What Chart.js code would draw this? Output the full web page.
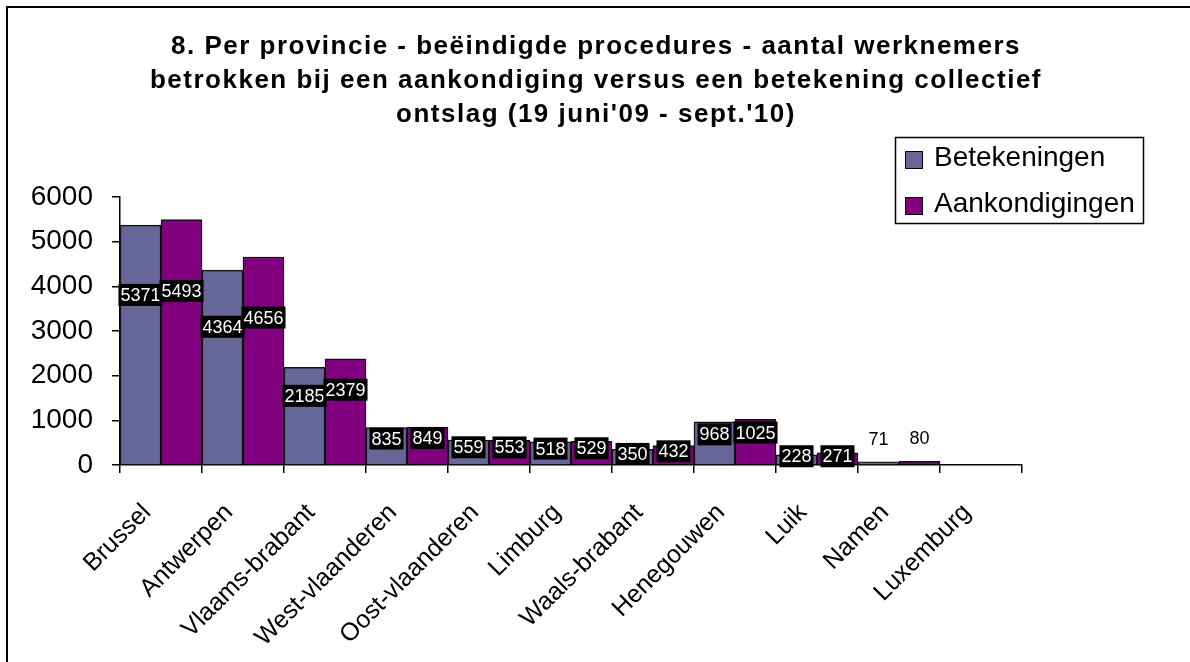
<!DOCTYPE html>
<html lang="nl">
<head>
<meta charset="UTF-8">
<title>Per provincie - beëindigde procedures</title>
<script src="https://cdn.jsdelivr.net/npm/chart.js"></script>
<style>
  html, body { margin: 0; padding: 0; background: #fff; }
  #wrap { width: 1190px; height: 662px; }
</style>
</head>
<body>
<div id="wrap"><canvas id="chart" width="1190" height="662"></canvas></div>
<script>
// gegevens
const provincies = ['Brussel', 'Antwerpen', 'Vlaams-brabant', 'West-vlaanderen', 'Oost-vlaanderen', 'Limburg',
    'Waals-brabant', 'Henegouwen', 'Luik', 'Namen', 'Luxemburg'];
const betekeningen = [5371, 4364, 2185, 835, 559, 518, 350, 968, 228, 71, null];
const aankondigingen = [5493, 4656, 2379, 849, 553, 529, 432, 1025, 271, 80, null];
const yTicks = [0, 1000, 2000, 3000, 4000, 5000, 6000];
const titel = [
    '8. Per provincie - beëindigde procedures - aantal werknemers',
    'betrokken bij een aankondiging versus een betekening collectief',
    "ontslag (19 juni'09 - sept.'10)"
];

const FONT = '"Liberation Sans", Arial, sans-serif';

// kader + titel
const kaderTitel = {
    id: 'kaderTitel',
    afterDraw(chart) {
        const ctx = chart.ctx;
        ctx.save();
        ctx.strokeStyle = '#000';
        ctx.lineWidth = 2;
        ctx.strokeRect(7, 7, 1300, 800);
        ctx.fillStyle = '#000';
        ctx.font = 'bold 26px ' + FONT;
        ctx.letterSpacing = '1.5px';
        ctx.textAlign = 'center';
        ctx.textBaseline = 'middle';
        titel.forEach((regel, i) => ctx.fillText(regel, 596, 47 + i * 34));
        ctx.restore();
    }
};

// legende rechtsboven
const legende = {
    id: 'legende',
    afterDraw(chart) {
        const ctx = chart.ctx;
        ctx.save();
        ctx.fillStyle = '#fff';
        ctx.fillRect(895, 137, 248, 86);
        ctx.strokeStyle = '#000';
        ctx.lineWidth = 1.5;
        ctx.strokeRect(895.5, 137.5, 248, 86);
        ctx.font = '28px ' + FONT;
        ctx.textBaseline = 'middle';
        chart.data.datasets.forEach((ds, i) => {
            const y = 160 + i * 46;
            ctx.fillStyle = ds.backgroundColor;
            ctx.fillRect(905, y - 9, 18, 18);
            ctx.strokeStyle = '#000';
            ctx.lineWidth = 1;
            ctx.strokeRect(905.5, y - 8.5, 17, 17);
            ctx.fillStyle = '#000';
            ctx.fillText(ds.label, 934, y - 2);
        });
        ctx.restore();
    }
};

// waarden op de staven
const waardeLabels = {
    id: 'waardeLabels',
    afterDatasetsDraw(chart) {
        const ctx = chart.ctx;
        ctx.save();
        ctx.font = '18px ' + FONT;
        ctx.textAlign = 'center';
        ctx.textBaseline = 'middle';
        chart.data.datasets.forEach((ds, i) => {
            chart.getDatasetMeta(i).data.forEach((bar, j) => {
                const v = ds.data[j];
                if (v == null) return;
                const txt = String(v);
                if (v < 100) {
                    ctx.fillStyle = '#000';
                    ctx.fillText(txt, bar.x, bar.y - 22);
                    return;
                }
                const cy = Math.min(bar.y + v * 0.013, bar.base - 8);
                const w = ctx.measureText(txt).width + 4;
                ctx.fillStyle = '#000';
                ctx.fillRect(bar.x - w / 2, cy - 11, w, 22);
                ctx.fillStyle = '#fff';
                ctx.fillText(txt, bar.x, cy + 1);
            });
        });
        ctx.restore();
    }
};

new Chart(document.getElementById('chart'), {
    type: 'bar',
    data: {
        labels: provincies,
        datasets: [{
            label: 'Betekeningen',
            data: betekeningen,
            backgroundColor: '#666699',
            borderColor: '#111',
            borderWidth: 1.5,
            categoryPercentage: 1,
            barPercentage: 1
        }, {
            label: 'Aankondigingen',
            data: aankondigingen,
            backgroundColor: '#800080',
            borderColor: '#111',
            borderWidth: 1.5,
            categoryPercentage: 1,
            barPercentage: 1
        }]
    },
    options: {
        responsive: false,
        animation: false,
        layout: { padding: { left: 8, right: 168, top: 197, bottom: 0 } },
        plugins: {
            legend: { display: false },
            title: { display: false },
            tooltip: { enabled: false }
        },
        scales: {
            x: {
                grid: { drawOnChartArea: false, drawTicks: true, tickLength: 8, color: '#000', lineWidth: 1.5 },
                border: { display: true, color: '#000', width: 1.5 },
                ticks: {
                    color: '#000',
                    font: { family: FONT, size: 25 },
                    minRotation: 45,
                    maxRotation: 45,
                    autoSkip: false,
                    labelOffset: -14,
                    padding: 25
                },
                afterFit: s => { s.height = 197; }
            },
            y: {
                min: 0,
                max: 6000,
                afterBuildTicks: s => { s.ticks = yTicks.map(v => ({ value: v })); },
                grid: { drawOnChartArea: false, drawTicks: true, tickLength: 8, color: '#000', lineWidth: 1.5 },
                border: { display: true, color: '#000', width: 1.5 },
                ticks: {
                    color: '#000',
                    font: { family: FONT, size: 28 },
                    padding: 19,
                    callback: v => String(v)
                },
                afterFit: s => { s.width = 112; }
            }
        }
    },
    plugins: [waardeLabels, legende, kaderTitel]
});
</script>
</body>
</html>
